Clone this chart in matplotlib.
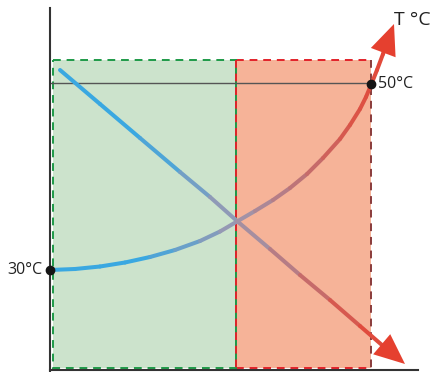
import numpy as np
import matplotlib
matplotlib.use('Agg')
import matplotlib.pyplot as plt
from matplotlib.collections import LineCollection
from matplotlib.colors import LinearSegmentedColormap, Normalize
from matplotlib.patches import Rectangle

plt.rcParams['font.family'] = ['Open Sans', 'DejaVu Sans']

# diagram readings, in picture units (x right, y down)
rise_x = [50, 75, 100, 125, 150, 175, 200, 220, 237, 255, 273, 290, 307, 323, 340, 350, 360, 366, 371, 377, 383, 387]
rise_y = [270, 269, 266.5, 262.5, 257, 250, 241, 231.5, 221.5, 211, 200, 188, 174, 158, 139, 125, 109, 97, 85, 70, 54, 43]
rise_tip = (394, 24)

fall_x = [60, 100, 140, 180, 210, 237, 270, 300, 330, 360, 390]
fall_y = [70, 104, 138, 172, 197, 221, 249, 275, 300, 326, 352]
fall_tip = (405, 364)

zone_x = [53, 236, 371]      # green zone start, split, red zone end
zone_top, zone_bottom = 60, 368
ref_line_y = 83
marks = [(50, 270, '30°C'), (371, 84, '50°C')]

cmap = LinearSegmentedColormap.from_list(
    'temp', [(0.0, '#3aa8e1'), (0.26, '#3aa8e1'), (0.53, '#9c98b0'),
             (0.86, '#d9564a'), (1.0, '#e8402f')])
norm = Normalize(vmin=50, vmax=400)

f = plt.figure(figsize=(4.3, 3.72), dpi=100)
ax = f.add_axes([0, 0, 1, 1])
ax.set_xlim(0, 430)
ax.set_ylim(372, 0)
ax.axis('off')

dash = (0, (4, 3))
# zones
ax.add_patch(Rectangle((zone_x[0], zone_top), zone_x[1] - zone_x[0], zone_bottom - zone_top,
                       facecolor='#cce3cc', edgecolor='#1e9a48', lw=1.4, ls=dash, zorder=1))
ax.add_patch(Rectangle((zone_x[1], zone_top), zone_x[2] - zone_x[1], zone_bottom - zone_top,
                       facecolor='#f6b398', edgecolor='none', zorder=1))
ax.plot([zone_x[1], zone_x[2]], [zone_top, zone_top], color='#e2222a', lw=1.4, ls=dash, zorder=2)
ax.plot([zone_x[1], zone_x[2]], [zone_bottom, zone_bottom], color='#e2222a', lw=1.4, ls=dash, zorder=2)
ax.plot([zone_x[1], zone_x[1]], [zone_top, zone_bottom], color='#1e9a48', lw=1.4, zorder=2)
ax.plot([zone_x[1], zone_x[1]], [zone_top, zone_bottom], color='#e2222a', lw=1.4, ls=dash, zorder=2)
ax.plot([zone_x[2], zone_x[2]], [zone_top, zone_bottom], color='#8a3b3b', lw=1.4, ls=dash, zorder=2)

# axes lines
ax.plot([50, 50], [8, 371], color='#333333', lw=1.5, zorder=5)
ax.plot([50, 418], [370, 370], color='#333333', lw=1.5, zorder=5)
ax.plot([50, zone_x[2]], [ref_line_y, ref_line_y], color='#555555', lw=1.0, zorder=3)


def gradient_line(xs, ys, tip):
    pts = np.column_stack([xs, ys])
    segs = np.stack([pts[:-1], pts[1:]], axis=1)
    mids = (pts[:-1, 0] + pts[1:, 0]) / 2
    lc = LineCollection(segs, colors=cmap(norm(mids)), linewidths=2.9,
                        capstyle='round', joinstyle='round', zorder=4)
    ax.add_collection(lc)
    # head only: shaft has zero width, the gradient line runs under the head
    ax.annotate('', xy=tip, xytext=(xs[-4], ys[-4]),
                arrowprops=dict(arrowstyle='-|>,head_length=2.2,head_width=0.95',
                                facecolor='#e5402f', edgecolor='none', lw=0,
                                shrinkA=0, shrinkB=0),
                zorder=4)


gradient_line(fall_x, fall_y, fall_tip)
gradient_line(rise_x, rise_y, rise_tip)

for x, y, label in marks:
    ax.plot(x, y, 'o', color='#151515', ms=6, zorder=6)
ax.text(marks[0][0] - 8, marks[0][1], marks[0][2], ha='right', va='center', fontsize=11.5, color='#222222')
ax.text(marks[1][0] + 7, marks[1][1], marks[1][2], ha='left', va='center', fontsize=11.5, color='#222222')
ax.text(394, 20, 'T °C', ha='left', va='center', fontsize=14, color='#222222')

f.savefig('out.png')
